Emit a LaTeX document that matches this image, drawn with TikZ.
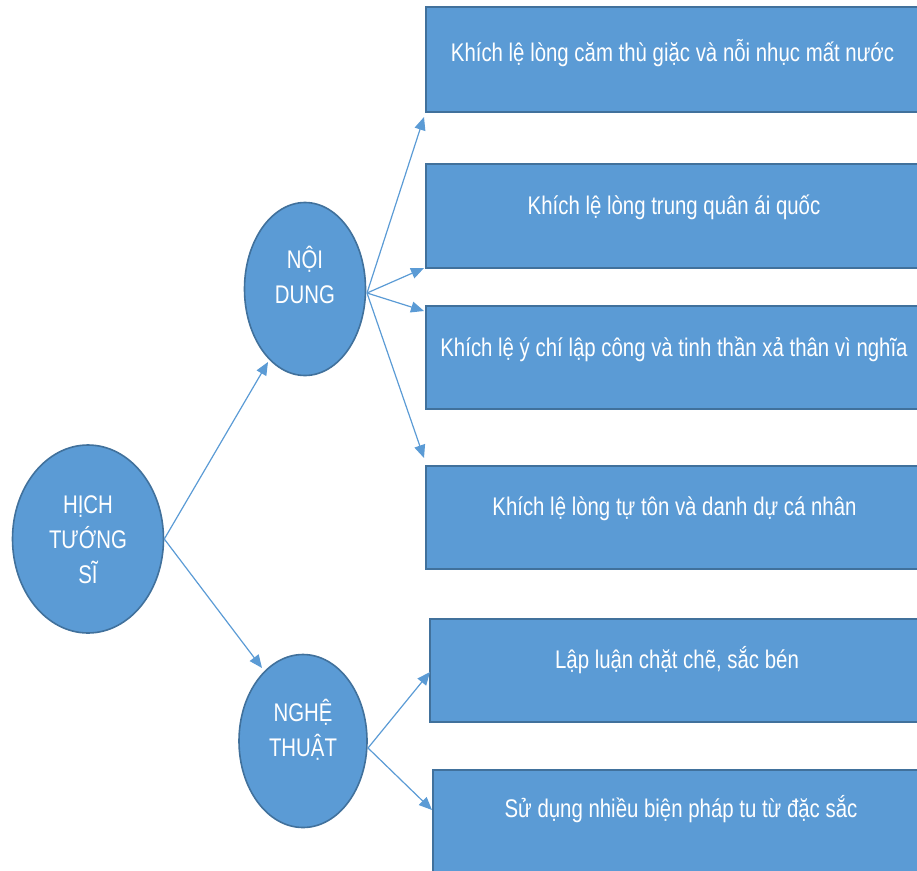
\documentclass[tikz,border=0pt]{standalone}
\usepackage{fontspec}
\setmainfont[FakeStretch=0.80]{Liberation Sans}
\usetikzlibrary{arrows.meta,shapes.geometric,calc}
\definecolor{fillblue}{HTML}{5B9BD5}
\definecolor{edgeblue}{HTML}{41719C}
\definecolor{arrowblue}{HTML}{5B9BD5}
\tikzset{
  oval/.style={ellipse, draw=edgeblue, line width=1.6pt, fill=fillblue, inner sep=0pt},
  rbox/.style={rectangle, draw=edgeblue, line width=1.6pt, fill=fillblue, anchor=north west, inner sep=0pt},
  wtext/.style={text=white, font=\fontsize{25.5}{35}\selectfont, align=center, inner sep=0pt},
  btext/.style={text=white, font=\fontsize{25.5}{35}\selectfont, anchor=base, inner sep=0pt},
  conn/.style={draw=arrowblue, line width=1.2pt, -{Triangle[length=13pt,width=11pt]}}
}
\begin{document}
\begin{tikzpicture}[x=1pt,y=-1pt]
\useasboundingbox (0,0) rectangle (917,870);
% circles
\node[oval, minimum width=151pt, minimum height=188pt] (h) at (88,539) {};
\node[oval, minimum width=121pt, minimum height=173pt] (n) at (305,289) {};
\node[oval, minimum width=128pt, minimum height=173pt] (g) at (303,741) {};
\node[wtext] (ht) at (88,539.5) {HỊCH\\TƯỚNG\\SĨ};
\node[wtext] (nt) at (305,275) {NỘI\\DUNG};
\node[wtext] (gt) at (303,730) {NGHỆ\\THUẬT};
% boxes
\node[rbox, minimum width=495pt, minimum height=105pt] (b1) at (425,6) {};
\node[rbox, minimum width=500pt, minimum height=104pt] (b2) at (425,163) {};
\node[rbox, minimum width=500pt, minimum height=103pt] (b3) at (425,305) {};
\node[rbox, minimum width=500pt, minimum height=103pt] (b4) at (425,465) {};
\node[rbox, minimum width=496pt, minimum height=103pt] (b5) at (429,618) {};
\node[rbox, minimum width=498pt, minimum height=110pt] (b6) at (432,769) {};
\node[btext] (t1) at (672.5,61) {Khích lệ lòng căm thù giặc và nỗi nhục mất nước};
\node[btext] (t2) at (674,214) {Khích lệ lòng trung quân ái quốc};
\node[btext] (t3) at (674,356) {Khích lệ ý chí lập công và tinh thần xả thân vì nghĩa};
\node[btext] (t4) at (674.5,515) {Khích lệ lòng tự tôn và danh dự cá nhân};
\node[btext] (t5) at (677,668) {Lập luận chặt chẽ, sắc bén};
\node[btext] (t6) at (681,817) {Sử dụng nhiều biện pháp tu từ đặc sắc};
% connector end points
\coordinate (hs) at ($(h.east)+(0,0)$);
\coordinate (hn) at (268,362);
\coordinate (hg) at (262,668);
\coordinate (ns) at (367,293);
\coordinate (n1) at (424,117);
\coordinate (n2) at (424,268);
\coordinate (n3) at (424,311);
\coordinate (n4) at (424,458);
\coordinate (gs) at (368,748);
\coordinate (g5) at (430,672);
\coordinate (g6) at (432,810);
% connectors
\draw[conn] (hs) -- (hn);
\draw[conn] (hs) -- (hg);
\draw[conn] (ns) -- (n1);
\draw[conn] (ns) -- (n2);
\draw[conn] (ns) -- (n3);
\draw[conn] (ns) -- (n4);
\draw[conn] (gs) -- (g5);
\draw[conn] (gs) -- (g6);
\end{tikzpicture}
\end{document}
